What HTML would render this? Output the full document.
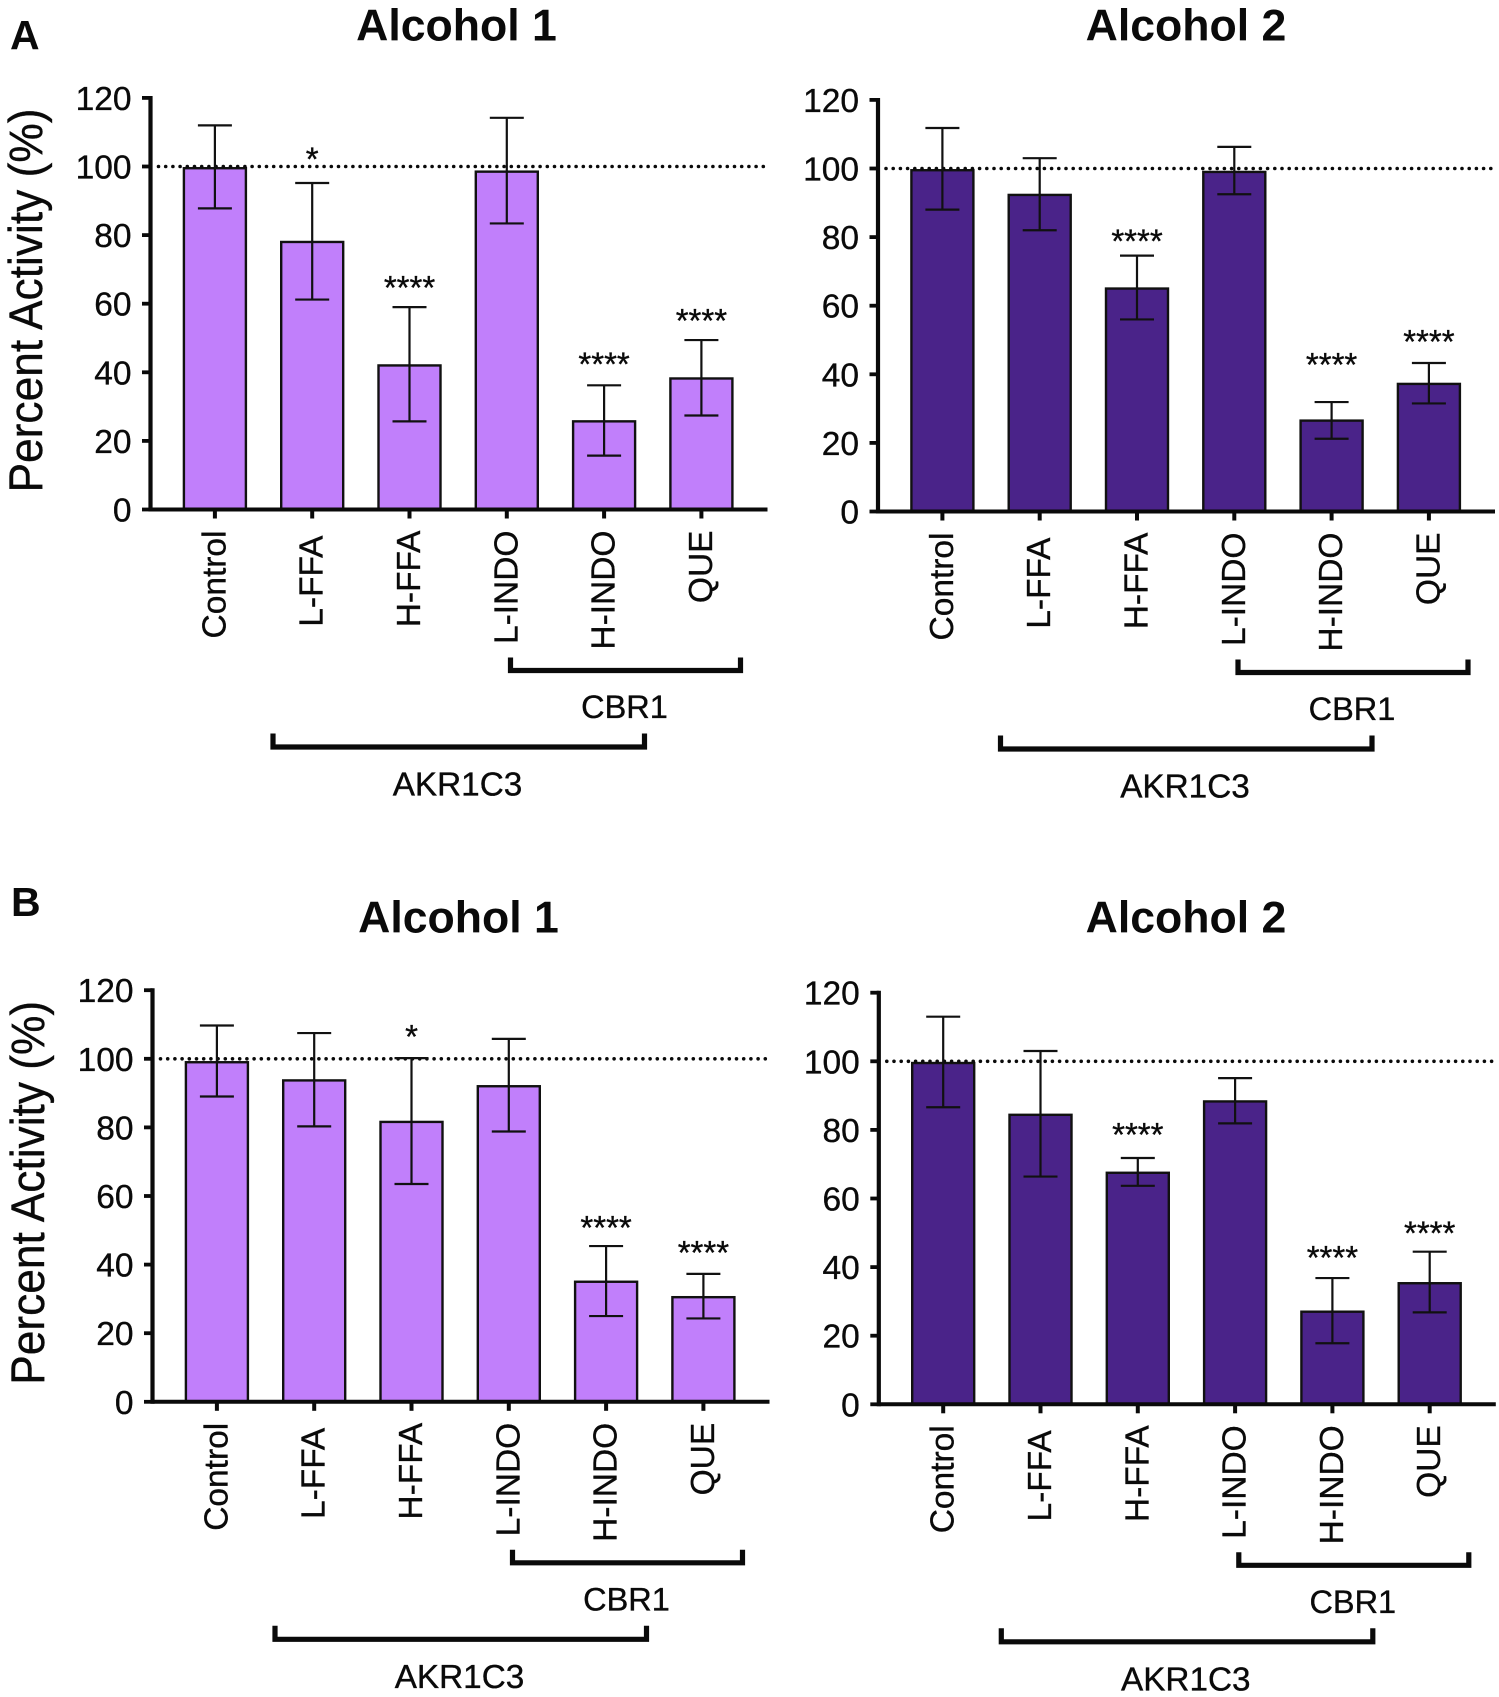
<!DOCTYPE html>
<html lang="en">
<head>
<meta charset="utf-8">
<title>Percent Activity - Alcohol 1 and Alcohol 2</title>
<style>
html,body{margin:0;padding:0;background:#fff;}
svg{display:block;}
text{font-family:"Liberation Sans",Arial,sans-serif;fill:#0a0a0a;}
text.reg{stroke:#0a0a0a;stroke-width:0.35px;}
</style>
</head>
<body>
<svg id="fig" xmlns="http://www.w3.org/2000/svg" width="1499" height="1697" viewBox="0 0 1499 1697">
  <text x="10" y="49" font-size="41" font-weight="700">A</text>
  <text x="11" y="916" font-size="41" font-weight="700">B</text>
</svg>
<script>
const categories = ['Control', 'L-FFA', 'H-FFA', 'L-INDO', 'H-INDO', 'QUE'];
const yTicks = [0, 20, 40, 60, 80, 100, 120];
const referenceLevel = [100];

const a1Means = [99.5, 78, 42, 98.5, 25.7, 38.2];
const a1Upper = [112, 95.2, 59, 114.2, 36.2, 49.4];
const a1Lower = [87.8, 61.2, 25.7, 83.4, 15.7, 27.4];
const a1Stars = ['', '*', '****', '', '****', '****'];

const a2Means = [99.5, 92.3, 65, 99, 26.5, 37.2];
const a2Upper = [111.8, 103, 74.6, 106.3, 31.9, 43.3];
const a2Lower = [88, 82, 56, 92.5, 21.2, 31.5];
const a2Stars = ['', '', '****', '', '****', '****'];

const b1Means = [99, 93.7, 81.6, 92, 35, 30.5];
const b1Upper = [109.7, 107.5, 100.2, 105.8, 45.4, 37.3];
const b1Lower = [89, 80.3, 63.5, 78.8, 25, 24.3];
const b1Stars = ['', '', '*', '', '****', '****'];

const b2Means = [99.5, 84.4, 67.5, 88.3, 27, 35.3];
const b2Upper = [113, 103, 71.8, 95.1, 36.8, 44.5];
const b2Lower = [86.6, 66.4, 63.7, 81.9, 17.8, 26.8];
const b2Stars = ['', '', '****', '', '****', '****'];

const SVG_NS = 'http://www.w3.org/2000/svg';
const fig = document.getElementById('fig');
const LIGHT = '#c17ffb';
const DARK = '#4a2389';
const INK = '#0a0a0a';

function add(parent, tag, attrs, txt) {
  const el = document.createElementNS(SVG_NS, tag);
  for (const k in attrs) el.setAttribute(k, attrs[k]);
  if (txt !== undefined) el.textContent = txt;
  parent.appendChild(el);
  return el;
}

function drawPanel(key, title, titleX, titleY, ox, oy, fill, means, upper, lower, stars, showYTitle, starNudge) {
  const unit = 68.6 / 20;
  const yScale = v => oy - v * unit;
  const xScale = i => ox + 64.4 + i * 97.3;
  const barW = 62;
  const axisEnd = ox + 617;

  const g = add(fig, 'g', {});
  
  

  const t = add(g, 'text', { x: titleX, y: titleY, 'font-size': 44.6, 'font-weight': 700, 'text-anchor': 'middle' }, title);
  
  

  if (showYTitle) {
    const yt = add(g, 'text', { class: 'reg', transform: 'translate(' + (ox - 108.5) + ',' + (oy - 209) + ') rotate(-90)', 'font-size': 47, 'text-anchor': 'middle', textLength: 384, lengthAdjust: 'spacingAndGlyphs' }, 'Percent Activity (%)');
    
    
  }

  means.forEach((m, i) => {
    const top = yScale(m);
    const r = add(g, 'rect', { x: xScale(i) - barW / 2, y: top, width: barW, height: oy - top, fill: fill, stroke: '#111', 'stroke-width': 2.4 });
    
    
  });

  const dots = add(g, 'line', { x1: ox + 8, x2: ox + 614, y1: yScale(referenceLevel[0]), y2: yScale(referenceLevel[0]), stroke: INK, 'stroke-width': 3.6, 'stroke-linecap': 'round', 'stroke-dasharray': '0 7.2' });
  
  

  means.forEach((m, i) => {
    const cx = xScale(i);
    const eb = add(g, 'path', {
      d: 'M' + cx + ' ' + yScale(upper[i]) + 'V' + yScale(lower[i]) +
         'M' + (cx - 17) + ' ' + yScale(upper[i]) + 'H' + (cx + 17) +
         'M' + (cx - 17) + ' ' + yScale(lower[i]) + 'H' + (cx + 17),
      stroke: '#111', 'stroke-width': 2.2, fill: 'none'
    });
    
    

    if (stars[i]) {
      const nudge = starNudge[i] || 0;
      const s = add(g, 'text', { class: 'reg', x: cx, y: yScale(upper[i]) - 5 + nudge, 'font-size': 33, 'text-anchor': 'middle' }, stars[i]);
      
      
    }

    const tick = add(g, 'line', { x1: cx, x2: cx, y1: oy, y2: oy + 9, stroke: INK, 'stroke-width': 4 });
    
    

    const lblShift = categories[i] === 'L-FFA' ? 5 : 0;
    const lbl = add(g, 'text', { class: 'reg', transform: 'translate(' + (cx + 10.5) + ',' + (oy + 21 + lblShift) + ') rotate(-90)', 'font-size': 33.5, 'text-anchor': 'end' }, categories[i]);
    
    
  });

  yTicks.forEach(v => {
    const y = yScale(v);
    const tk = add(g, 'line', { x1: ox - 8.5, x2: ox, y1: y, y2: y, stroke: INK, 'stroke-width': 3.8 });
    
    
    const tl = add(g, 'text', { class: 'reg', x: ox - 19, y: y + 12, 'font-size': 33.5, 'text-anchor': 'end' }, String(v));
    
    
  });

  const axY = add(g, 'line', { x1: ox, x2: ox, y1: yScale(120) - 1.9, y2: oy + 2, stroke: INK, 'stroke-width': 4.2 });
  
  
  const axX = add(g, 'line', { x1: ox, x2: axisEnd, y1: oy, y2: oy, stroke: INK, 'stroke-width': 4 });
  
  

  const br1 = add(g, 'path', { d: 'M' + (ox + 360) + ' ' + (oy + 148) + 'V' + (oy + 161) + 'H' + (ox + 590) + 'V' + (oy + 148), stroke: INK, 'stroke-width': 5.2, fill: 'none' });
  
  
  const brT1 = add(g, 'text', { class: 'reg', x: ox + 474, y: oy + 208.5, 'font-size': 32.5, 'text-anchor': 'middle' }, 'CBR1');
  
  

  const br2 = add(g, 'path', { d: 'M' + (ox + 122.5) + ' ' + (oy + 224) + 'V' + (oy + 237.5) + 'H' + (ox + 494) + 'V' + (oy + 224), stroke: INK, 'stroke-width': 5.2, fill: 'none' });
  
  
  const brT2 = add(g, 'text', { class: 'reg', x: ox + 307, y: oy + 286, 'font-size': 33.3, 'text-anchor': 'middle' }, 'AKR1C3');
  
  
}

drawPanel('a-alcohol-1', 'Alcohol 1', 456.5, 40.5, 150.5, 509.5, LIGHT, a1Means, a1Upper, a1Lower, a1Stars, true, { 1: -7.5, 2: -3, 4: -5, 5: -3 });
drawPanel('a-alcohol-2', 'Alcohol 2', 1186, 40.5, 878, 511.5, DARK, a2Means, a2Upper, a2Lower, a2Stars, false, { 2: 2, 4: -21, 5: -5 });
drawPanel('b-alcohol-1', 'Alcohol 1', 458.5, 932.7, 152.5, 1401.8, LIGHT, b1Means, b1Upper, b1Lower, b1Stars, true, { 2: -5, 4: -2, 5: -5 });
drawPanel('b-alcohol-2', 'Alcohol 2', 1186, 932.7, 878.8, 1404.3, DARK, b2Means, b2Upper, b2Lower, b2Stars, false, { 2: -7, 4: -4, 5: -2 });
</script>
</body>
</html>
